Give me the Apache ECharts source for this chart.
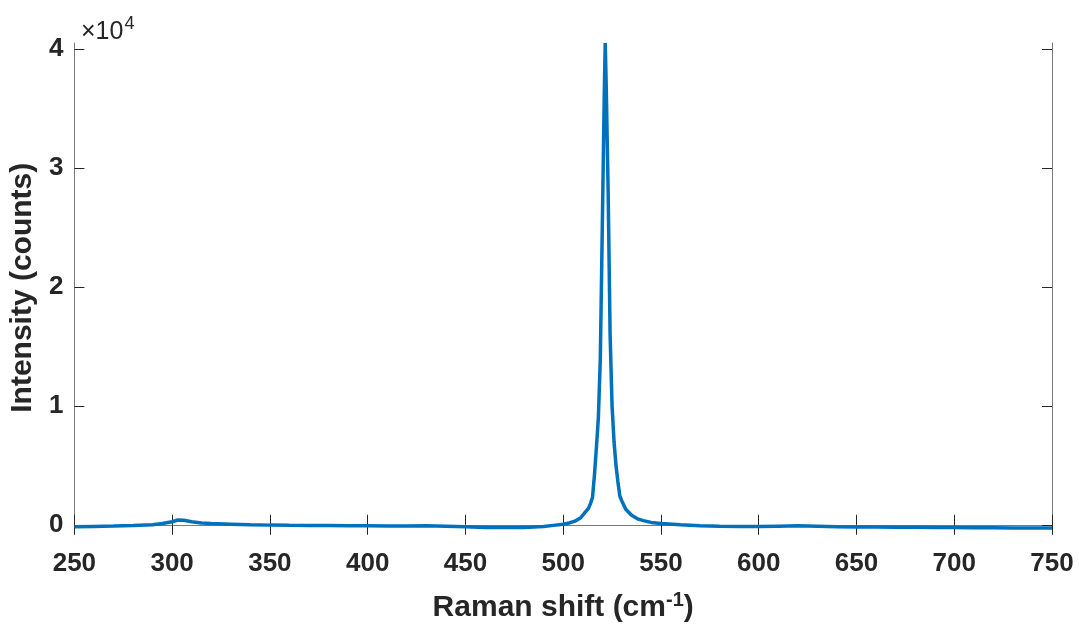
<!DOCTYPE html>
<html>
<head>
<meta charset="utf-8">
<title>Raman spectrum</title>
<script src="https://cdn.jsdelivr.net/npm/echarts@6/dist/echarts.min.js"></script>
<style>
  html,body{margin:0;padding:0;background:#fff;}
  #chart{width:1079px;height:628px;}
</style>
</head>
<body>
<div id="chart"></div>
<script>
// Raman shift positions (cm-1)
const ramanShift=[250,260,270,280,290,295,300,303,306,310,315,320,330,340,350,360,370,380,390,400,
  410,420,430,440,450,460,470,480,490,495,500,503,506,509,511,513,514,515,516,517,518,519,520,521,521.5,
  522,523,524,525,526,527,528,529,530,532,535,538,541,545,550,560,570,580,590,600,610,620,630,640,650,
  660,670,680,690,700,710,720,730,740,750];
// intensity in counts
const intensity=[-170,-140,-110,-60,0,100,250,400,380,250,150,100,50,0,-30,-50,-60,-70,-80,-90,
  -100,-110,-80,-120,-160,-230,-240,-220,-150,-50,50,150,300,600,1000,1400,1800,2300,4200,6500,9000,14000,25000,36000,40500,
  37000,28000,16000,10000,7000,5000,3600,2400,2000,1300,800,500,350,200,100,0,-80,-130,-150,-150,-120,-90,-120,-160,-180,
  -190,-200,-210,-230,-240,-250,-260,-270,-270,-280];
const yTicks=[0,10000,20000,30000,40000];

const FONT='"Liberation Sans", Arial, sans-serif';
const INK='#262626';

const chart=echarts.init(document.getElementById('chart'));

const spectrum=ramanShift.map((x,i)=>[x,intensity[i]]);

const boxLine={show:true,lineStyle:{color:'#7a7a7a',width:1}};

const option={
  animation:false,
  backgroundColor:'#fff',
  title:{
    text:'{a|×10}{b|4}',
    left:76,
    top:10,
    textStyle:{
      rich:{
        a:{fontFamily:FONT,fontSize:25,color:INK,fontWeight:'normal'},
        b:{fontFamily:FONT,fontSize:18,color:INK,fontWeight:'normal',padding:[0,0,16,1]}
      }
    }
  },
  grid:{left:73,right:27,top:43,bottom:94},
  xAxis:[{
    type:'value',
    min:250,max:750,interval:50,
    position:'bottom',
    name:'{t|Raman shift (cm}{s|-1}{t|)}',
    nameLocation:'middle',
    nameGap:58,
    nameTextStyle:{
      rich:{
        t:{fontFamily:FONT,fontSize:30,fontWeight:'bold',color:INK},
        s:{fontFamily:FONT,fontSize:20,fontWeight:'bold',color:INK,padding:[0,0,15,0]}
      }
    },
    axisLine:boxLine,
    axisTick:{show:true,inside:true,length:10,lineStyle:{color:INK}},
    axisLabel:{fontFamily:FONT,fontSize:26,fontWeight:'bold',color:INK,margin:18},
    splitLine:{show:false}
  },{
    type:'value',
    min:250,max:750,interval:50,
    position:'top',
    axisLine:boxLine,
    axisTick:{show:true,inside:true,length:10,lineStyle:{color:INK}},
    axisLabel:{show:false},
    splitLine:{show:false}
  }],
  yAxis:[{
    type:'value',
    min:-650,max:40500,
    position:'left',
    name:'Intensity (counts)',
    nameLocation:'middle',
    nameGap:31,
    nameTextStyle:{fontFamily:FONT,fontSize:30,fontWeight:'bold',color:INK},
    axisLine:boxLine,
    axisTick:{show:true,inside:true,length:10,lineStyle:{color:INK},customValues:yTicks},
    axisLabel:{fontFamily:FONT,fontSize:26,fontWeight:'bold',color:INK,margin:11,
      customValues:yTicks,formatter:v=>String(v/10000)},
    splitLine:{show:false}
  },{
    type:'value',
    min:-650,max:40500,
    position:'right',
    axisLine:boxLine,
    axisTick:{show:true,inside:true,length:10,lineStyle:{color:INK},customValues:yTicks},
    axisLabel:{show:false},
    splitLine:{show:false}
  }],
  series:[{
    type:'line',
    data:spectrum,
    xAxisIndex:0,
    yAxisIndex:0,
    showSymbol:false,
    smooth:false,
    clip:false,
    lineStyle:{color:'#0072BD',width:3.5},
    z:3
  }]
};

chart.setOption(option);
</script>
</body>
</html>
